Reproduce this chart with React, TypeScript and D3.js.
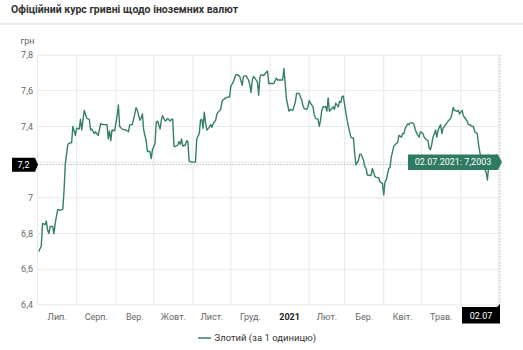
import React from 'react';
import * as d3 from 'd3';

// official NBU rate, UAH per 1 zloty, 02.07.2020 - 02.07.2021
const dates = [
  '2020-07-02', '2020-07-04', '2020-07-05', '2020-07-07', '2020-07-08', '2020-07-09', '2020-07-10', '2020-07-11',
  '2020-07-13', '2020-07-14', '2020-07-15', '2020-07-17', '2020-07-19', '2020-07-21', '2020-07-22', '2020-07-23',
  '2020-07-25', '2020-07-26', '2020-07-28', '2020-07-29', '2020-07-31', '2020-08-01', '2020-08-03', '2020-08-04',
  '2020-08-05', '2020-08-06', '2020-08-07', '2020-08-09', '2020-08-11', '2020-08-12', '2020-08-13', '2020-08-15',
  '2020-08-16', '2020-08-18', '2020-08-20', '2020-08-22', '2020-08-25', '2020-08-26', '2020-08-27', '2020-08-28',
  '2020-08-29', '2020-08-31', '2020-09-02', '2020-09-03', '2020-09-04', '2020-09-06', '2020-09-09', '2020-09-11',
  '2020-09-12', '2020-09-14', '2020-09-16', '2020-09-17', '2020-09-18', '2020-09-20', '2020-09-21', '2020-09-22',
  '2020-09-23', '2020-09-25', '2020-09-26', '2020-09-28', '2020-09-29', '2020-09-30', '2020-10-02', '2020-10-03',
  '2020-10-04', '2020-10-06', '2020-10-07', '2020-10-08', '2020-10-10', '2020-10-11', '2020-10-12', '2020-10-14',
  '2020-10-15', '2020-10-16', '2020-10-17', '2020-10-18', '2020-10-20', '2020-10-21', '2020-10-22', '2020-10-23',
  '2020-10-24', '2020-10-26', '2020-10-27', '2020-10-28', '2020-10-29', '2020-10-31', '2020-11-02', '2020-11-03',
  '2020-11-04', '2020-11-06', '2020-11-07', '2020-11-08', '2020-11-09', '2020-11-10', '2020-11-11', '2020-11-12',
  '2020-11-14', '2020-11-15', '2020-11-16', '2020-11-17', '2020-11-19', '2020-11-20', '2020-11-21', '2020-11-23',
  '2020-11-24', '2020-11-25', '2020-11-27', '2020-11-29', '2020-11-30', '2020-12-01', '2020-12-03', '2020-12-05',
  '2020-12-06', '2020-12-08', '2020-12-10', '2020-12-11', '2020-12-13', '2020-12-15', '2020-12-16', '2020-12-17',
  '2020-12-18', '2020-12-19', '2020-12-20', '2020-12-22', '2020-12-23', '2020-12-24', '2020-12-25', '2020-12-27',
  '2020-12-28', '2020-12-30', '2020-12-31', '2021-01-02', '2021-01-04', '2021-01-06', '2021-01-07', '2021-01-09',
  '2021-01-11', '2021-01-12', '2021-01-13', '2021-01-14', '2021-01-15', '2021-01-16', '2021-01-17', '2021-01-19',
  '2021-01-21', '2021-01-22', '2021-01-24', '2021-01-26', '2021-01-27', '2021-01-28', '2021-01-30', '2021-01-31',
  '2021-02-01', '2021-02-02', '2021-02-04', '2021-02-05', '2021-02-06', '2021-02-08', '2021-02-09', '2021-02-10',
  '2021-02-11', '2021-02-12', '2021-02-14', '2021-02-15', '2021-02-16', '2021-02-17', '2021-02-19', '2021-02-20',
  '2021-02-21', '2021-02-22', '2021-02-24', '2021-02-25', '2021-02-26', '2021-02-27', '2021-02-28', '2021-03-02',
  '2021-03-03', '2021-03-04', '2021-03-06', '2021-03-07', '2021-03-08', '2021-03-09', '2021-03-10', '2021-03-12',
  '2021-03-13', '2021-03-14', '2021-03-16', '2021-03-17', '2021-03-18', '2021-03-19', '2021-03-21', '2021-03-22',
  '2021-03-23', '2021-03-25', '2021-03-26', '2021-03-28', '2021-03-29', '2021-03-31', '2021-04-01', '2021-04-02',
  '2021-04-03', '2021-04-05', '2021-04-06', '2021-04-07', '2021-04-09', '2021-04-11', '2021-04-12', '2021-04-13',
  '2021-04-15', '2021-04-16', '2021-04-17', '2021-04-18', '2021-04-20', '2021-04-21', '2021-04-22', '2021-04-24',
  '2021-04-25', '2021-04-26', '2021-04-28', '2021-04-29', '2021-04-30', '2021-05-02', '2021-05-03', '2021-05-04',
  '2021-05-06', '2021-05-07', '2021-05-08', '2021-05-09', '2021-05-10', '2021-05-12', '2021-05-13', '2021-05-14',
  '2021-05-16', '2021-05-17', '2021-05-18', '2021-05-20', '2021-05-21', '2021-05-22', '2021-05-24', '2021-05-25',
  '2021-05-26', '2021-05-27', '2021-05-29', '2021-05-30', '2021-05-31', '2021-06-02', '2021-06-03', '2021-06-04',
  '2021-06-06', '2021-06-07', '2021-06-08', '2021-06-10', '2021-06-11', '2021-06-12', '2021-06-14', '2021-06-15',
  '2021-06-16', '2021-06-17', '2021-06-18', '2021-06-19', '2021-06-21', '2021-06-22', '2021-06-23', '2021-06-24',
  '2021-06-25', '2021-06-27', '2021-06-28', '2021-06-29', '2021-07-01', '2021-07-02',
];

const rates = [
  6.70, 6.73, 6.857, 6.85, 6.87, 6.82, 6.80, 6.84,
  6.84, 6.80, 6.857, 6.935, 6.93, 6.935, 7.04, 7.19,
  7.30, 7.305, 7.31, 7.40, 7.35, 7.39, 7.385, 7.44,
  7.38, 7.435, 7.49, 7.445, 7.44, 7.38, 7.385, 7.36,
  7.37, 7.35, 7.415, 7.41, 7.41, 7.33, 7.375, 7.32,
  7.38, 7.375, 7.46, 7.52, 7.40, 7.385, 7.38, 7.37,
  7.41, 7.41, 7.47, 7.505, 7.49, 7.435, 7.445, 7.47,
  7.38, 7.32, 7.26, 7.26, 7.22, 7.27, 7.305, 7.425,
  7.43, 7.385, 7.435, 7.46, 7.43, 7.435, 7.445, 7.43,
  7.44, 7.44, 7.29, 7.287, 7.296, 7.315, 7.30, 7.33,
  7.29, 7.296, 7.32, 7.315, 7.206, 7.20, 7.20, 7.20,
  7.33, 7.36, 7.435, 7.44, 7.39, 7.48, 7.42, 7.38,
  7.395, 7.41, 7.395, 7.415, 7.435, 7.47, 7.48, 7.495,
  7.54, 7.55, 7.56, 7.565, 7.565, 7.625, 7.65, 7.69,
  7.69, 7.68, 7.63, 7.68, 7.685, 7.66, 7.635, 7.59,
  7.66, 7.68, 7.67, 7.65, 7.575, 7.675, 7.69, 7.685,
  7.695, 7.71, 7.64, 7.64, 7.64, 7.67, 7.66, 7.66,
  7.66, 7.725, 7.64, 7.555, 7.52, 7.486, 7.495, 7.49,
  7.535, 7.585, 7.585, 7.55, 7.52, 7.50, 7.495, 7.51,
  7.545, 7.53, 7.51, 7.466, 7.445, 7.44, 7.40, 7.435,
  7.49, 7.51, 7.51, 7.486, 7.56, 7.485, 7.50, 7.51,
  7.495, 7.53, 7.51, 7.54, 7.535, 7.567, 7.57, 7.48,
  7.435, 7.40, 7.34, 7.335, 7.335, 7.25, 7.185, 7.21,
  7.245, 7.245, 7.21, 7.175, 7.165, 7.128, 7.125, 7.128,
  7.165, 7.12, 7.115, 7.113, 7.09, 7.08, 7.016, 7.09,
  7.10, 7.165, 7.17, 7.23, 7.29, 7.304, 7.31, 7.35,
  7.34, 7.36, 7.36, 7.39, 7.415, 7.41, 7.42, 7.42,
  7.41, 7.38, 7.35, 7.34, 7.37, 7.36, 7.34, 7.33,
  7.32, 7.276, 7.27, 7.30, 7.34, 7.38, 7.34, 7.38,
  7.41, 7.36, 7.39, 7.41, 7.42, 7.43, 7.445, 7.47,
  7.506, 7.49, 7.485, 7.49, 7.47, 7.49, 7.46, 7.45,
  7.43, 7.41, 7.41, 7.40, 7.40, 7.37, 7.36, 7.30,
  7.257, 7.214, 7.18, 7.17, 7.145, 7.10, 7.17, 7.18,
  7.178, 7.18, 7.21, 7.24, 7.20, 7.2003,
];

const yTicks = [6.4, 6.6, 6.8, 7, 7.2, 7.4, 7.6, 7.8];
const monthLabels = ['Лип.', 'Серп.', 'Вер.', 'Жовт.', 'Лист.', 'Груд.', '2021', 'Лют.', 'Бер.', 'Квіт.', 'Трав.', 'Черв.'];
const title = 'Офіційний курс гривні щодо іноземних валют';
const seriesName = 'Злотий (за 1 одиницю)';
const pointerRate = 7.186; // where the mouse crosshair sits

const W = 523;
const H = 350;
const green = '#357f68';
const font = 'Roboto, "Noto Sans", sans-serif';

const fmt = (v: number) => String(v).replace('.', ',');

export default function App() {
  const parse = d3.timeParse('%Y-%m-%d');
  const points = dates.map((d, i) => ({ date: parse(d) as Date, rate: rates[i] }));

  const x = d3.scaleTime().domain([new Date(2020, 6, 1), new Date(2021, 6, 2)]).range([37.5, 500]);
  const y = d3.scaleLinear().domain([6.4, 7.8]).range([305, 55]);

  const line = d3
    .line<{ date: Date; rate: number }>()
    .x((d) => x(d.date))
    .y((d) => y(d.rate));

  const monthStarts = d3.timeMonth.range(new Date(2020, 6, 1), new Date(2021, 6, 2));
  const last = points[points.length - 1];
  const lastX = x(last.date);
  const lastY = y(last.rate);
  const ptrY = y(pointerRate);
  const ptrLabel = fmt(Math.round(pointerRate * 10) / 10);
  const [x0, x1] = x.range();
  const [yb, yt] = y.range();

  // labels hidden behind the crosshair boxes are not drawn
  const visibleYTicks = yTicks.filter((t) => fmt(t) !== ptrLabel);
  const xBoxLeft = 462;

  return (
    <svg
      width={W}
      height={H}
      style={{ position: 'absolute', left: 0, top: 0, background: '#fff', fontFamily: font }}
    >
      <text x={11} y={13} fontSize={10.5} fontWeight="bold" fill="#333">
        {title}
      </text>
      <rect x={0} y={22.5} width={W} height={2.5} fill="#ececec" />

      <text x={20.5} y={44} fontSize={9} fill="#666">
        грн
      </text>

      {/* grid */}
      {yTicks.map((t) => (
        <line key={t} x1={x0} x2={x1} y1={y(t)} y2={y(t)} stroke="#e8e8e8" strokeWidth={1} />
      ))}
      <line x1={x0} x2={x0} y1={yt} y2={yb} stroke="#e8e8e8" />
      {monthStarts.slice(1).map((m) => (
        <line key={+m} x1={x(m)} x2={x(m)} y1={yt} y2={yb} stroke="#e8e8e8" />
      ))}

      {visibleYTicks.map((t) => (
        <text key={t} x={33} y={y(t) + 3.2} fontSize={9} fill="#666" textAnchor="end">
          {fmt(t)}
        </text>
      ))}

      {monthStarts.map((m, i) => {
        const cx = (x(m) + x(d3.timeMonth.offset(m, 1))) / 2;
        if (cx > xBoxLeft) return null;
        const bold = monthLabels[i] === '2021';
        return (
          <text
            key={+m}
            x={cx}
            y={319.5}
            fontSize={9}
            textAnchor="middle"
            fill={bold ? '#222' : '#666'}
            fontWeight={bold ? 'bold' : 'normal'}
          >
            {monthLabels[i]}
          </text>
        );
      })}

      {/* crosshairs */}
      <line x1={x0} x2={x1} y1={ptrY} y2={ptrY} stroke="#bbb" strokeDasharray="1.5,1.5" />
      <line x1={lastX} x2={lastX} y1={yt} y2={yb} stroke="#bbb" strokeDasharray="1.5,1.5" />

      <path d={line(points) || ''} fill="none" stroke={green} strokeWidth={1.4} strokeLinejoin="round" />

      {/* y crosshair label */}
      <path d={`M12,${ptrY - 7} H35 L38,${ptrY} L35,${ptrY + 7} H12 Z`} fill="#000" />
      <text x={23.5} y={ptrY + 3.2} fontSize={9} fill="#fff" textAnchor="middle">
        {ptrLabel}
      </text>

      {/* x crosshair label */}
      <path d={`M${xBoxLeft},307 H${lastX - 3} L${lastX},304 V323.5 H${xBoxLeft} Z`} fill="#000" />
      <text x={481} y={318.5} fontSize={9} fill="#fff" textAnchor="middle">
        {d3.timeFormat('%d.%m')(last.date)}
      </text>

      {/* tooltip */}
      <path
        d={`M408,${lastY - 7.5} H${lastX - 2} L${lastX + 2},${lastY} L${lastX - 2},${lastY + 8} H408 Z`}
        fill="#2e7b62"
      />
      <text x={453} y={lastY + 3.3} fontSize={9} fill="#fff" textAnchor="middle">
        {`${d3.timeFormat('%d.%m.%Y')(last.date)}: ${fmt(last.rate)}`}
      </text>

      {/* legend */}
      <line x1={198} x2={211} y1={338} y2={338} stroke={green} strokeWidth={1.5} />
      <text x={214.5} y={341} fontSize={9.5} fill="#333">
        {seriesName}
      </text>
    </svg>
  );
}
